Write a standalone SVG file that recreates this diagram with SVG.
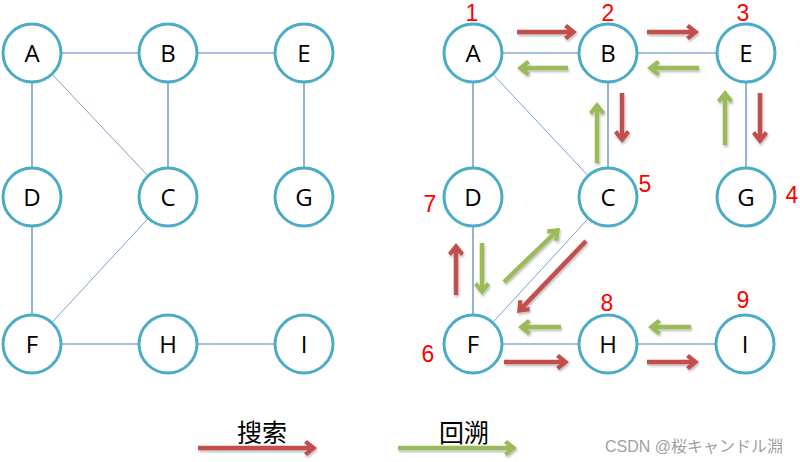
<svg xmlns="http://www.w3.org/2000/svg" width="800" height="462" viewBox="0 0 800 462">
<style>
.node circle{fill:#fff;stroke:#4bacc6;stroke-width:3}
.node text{font-family:"Open Sans","Liberation Sans",sans-serif;font-size:24px;fill:#000;text-anchor:middle}
.node text.num{font-family:"Liberation Sans",sans-serif;font-size:23px;fill:#ff0000}
.edge{stroke:#4f81bd;stroke-width:1.2;fill:none}
.diag{stroke:#7f9fd0;stroke-width:1;fill:none}
.red{stroke:#c0504d;stroke-width:4.5;fill:none;marker-end:url(#mr)}
.grn{stroke:#9bbb59;stroke-width:4.5;fill:none;marker-end:url(#mg)}
.arrows{filter:url(#sh)}
.leg{font-family:"Noto Sans CJK SC",sans-serif;font-size:25px;fill:#000;text-anchor:middle}
.wm{font-family:"Liberation Sans","Noto Sans CJK JP",sans-serif;font-size:16px;fill:#a0a0a0}
</style>
<defs>
<filter id="sh" filterUnits="userSpaceOnUse" x="0" y="0" width="800" height="462">
<feDropShadow dx="1" dy="2" stdDeviation="1" flood-color="#000" flood-opacity="0.25"/>
</filter>
<marker id="mr" markerUnits="userSpaceOnUse" viewBox="-14 -9 15 18" markerWidth="15" markerHeight="18" refX="-5" refY="0" orient="auto">
<polygon points="0,0 -10,-8 -13,-5 -7,0 -13,5 -10,8" fill="#c0504d"/>
</marker>
<marker id="mg" markerUnits="userSpaceOnUse" viewBox="-14 -9 15 18" markerWidth="15" markerHeight="18" refX="-5" refY="0" orient="auto">
<polygon points="0,0 -10,-8 -13,-5 -7,0 -13,5 -10,8" fill="#9bbb59"/>
</marker>
</defs>
<rect width="800" height="462" fill="#fff"/>
<g id="connectors">
<line class="edge" x1="32" y1="53" x2="168" y2="53"/>
<line class="edge" x1="168" y1="53" x2="304" y2="53"/>
<line class="edge" x1="32" y1="53" x2="32" y2="344"/>
<line class="diag" x1="32" y1="53" x2="168" y2="197"/>
<line class="edge" x1="168" y1="53" x2="168" y2="197"/>
<line class="edge" x1="304" y1="53" x2="304" y2="197"/>
<line class="diag" x1="168" y1="197" x2="32" y2="344"/>
<line class="edge" x1="32" y1="344" x2="304" y2="344"/>
<line class="edge" x1="473" y1="53" x2="608" y2="53"/>
<line class="edge" x1="608" y1="53" x2="746" y2="53"/>
<line class="edge" x1="473" y1="53" x2="473" y2="344"/>
<line class="diag" x1="473" y1="53" x2="608" y2="197"/>
<line class="edge" x1="608" y1="53" x2="608" y2="197"/>
<line class="edge" x1="746" y1="53" x2="746" y2="197"/>
<line class="diag" x1="608" y1="197" x2="473" y2="344"/>
<line class="edge" x1="473" y1="344" x2="745" y2="344"/>
</g>
<g id="L-A" class="node"><circle cx="32" cy="53" r="29"/><text x="32" y="62">A</text></g>
<g id="L-B" class="node"><circle cx="168" cy="53" r="29"/><text x="168" y="62">B</text></g>
<g id="L-E" class="node"><circle cx="304" cy="53" r="29"/><text x="304" y="62">E</text></g>
<g id="L-D" class="node"><circle cx="32" cy="197" r="29"/><text x="32" y="206">D</text></g>
<g id="L-C" class="node"><circle cx="168" cy="197" r="29"/><text x="168" y="206">C</text></g>
<g id="L-G" class="node"><circle cx="304" cy="197" r="29"/><text x="304" y="206">G</text></g>
<g id="L-F" class="node"><circle cx="32" cy="344" r="29"/><text x="32" y="353">F</text></g>
<g id="L-H" class="node"><circle cx="168" cy="344" r="29"/><text x="168" y="353">H</text></g>
<g id="L-I" class="node"><circle cx="304" cy="344" r="29"/><text x="304" y="353">I</text></g>
<g id="R-A" class="node"><circle cx="473" cy="53" r="29"/><text x="473" y="62">A</text><text class="num" x="472" y="21">1</text></g>
<g id="R-B" class="node"><circle cx="608" cy="53" r="29"/><text x="608" y="62">B</text><text class="num" x="608" y="21">2</text></g>
<g id="R-E" class="node"><circle cx="746" cy="53" r="29"/><text x="746" y="62">E</text><text class="num" x="743" y="21">3</text></g>
<g id="R-D" class="node"><circle cx="473" cy="197" r="29"/><text x="473" y="206">D</text><text class="num" x="430" y="212">7</text></g>
<g id="R-C" class="node"><circle cx="608" cy="197" r="29"/><text x="608" y="206">C</text><text class="num" x="645" y="192">5</text></g>
<g id="R-G" class="node"><circle cx="746" cy="197" r="29"/><text x="746" y="206">G</text><text class="num" x="792" y="203">4</text></g>
<g id="R-F" class="node"><circle cx="473" cy="344" r="29"/><text x="473" y="353">F</text><text class="num" x="428" y="362">6</text></g>
<g id="R-H" class="node"><circle cx="608" cy="344" r="29"/><text x="608" y="353">H</text><text class="num" x="607" y="311">8</text></g>
<g id="R-I" class="node"><circle cx="745" cy="344" r="29"/><text x="745" y="353">I</text><text class="num" x="743" y="308">9</text></g>
<g id="traversal" class="arrows">
<line class="red" x1="517" y1="32" x2="572" y2="32"/>
<line class="red" x1="647" y1="32" x2="694" y2="32"/>
<line class="red" x1="622" y1="93" x2="622" y2="138"/>
<line class="red" x1="760" y1="93" x2="760" y2="139"/>
<line class="red" x1="586" y1="241" x2="520.5" y2="309.4"/>
<line class="red" x1="456" y1="295" x2="456" y2="248"/>
<line class="red" x1="504" y1="362" x2="564" y2="362"/>
<line class="red" x1="647" y1="362" x2="694" y2="362"/>
<line class="grn" x1="568" y1="68" x2="522" y2="68"/>
<line class="grn" x1="699" y1="68" x2="652" y2="68"/>
<line class="grn" x1="597" y1="163" x2="597" y2="107"/>
<line class="grn" x1="725" y1="145" x2="725" y2="95"/>
<line class="grn" x1="482" y1="243" x2="482" y2="290"/>
<line class="grn" x1="504" y1="282" x2="556.4" y2="231.5"/>
<line class="grn" x1="561" y1="327" x2="523" y2="327"/>
<line class="grn" x1="691" y1="327" x2="653" y2="327"/>
</g>
<g id="legend">
<g class="arrows">
<line class="red" x1="198" y1="448" x2="312" y2="448"/>
<line class="grn" x1="398" y1="448" x2="512" y2="448"/>
</g>
<text class="leg" x="262" y="442">搜索</text>
<text class="leg" x="464" y="442">回溯</text>
</g>
<text class="wm" x="605" y="452">CSDN @桜キャンドル淵</text>
</svg>
